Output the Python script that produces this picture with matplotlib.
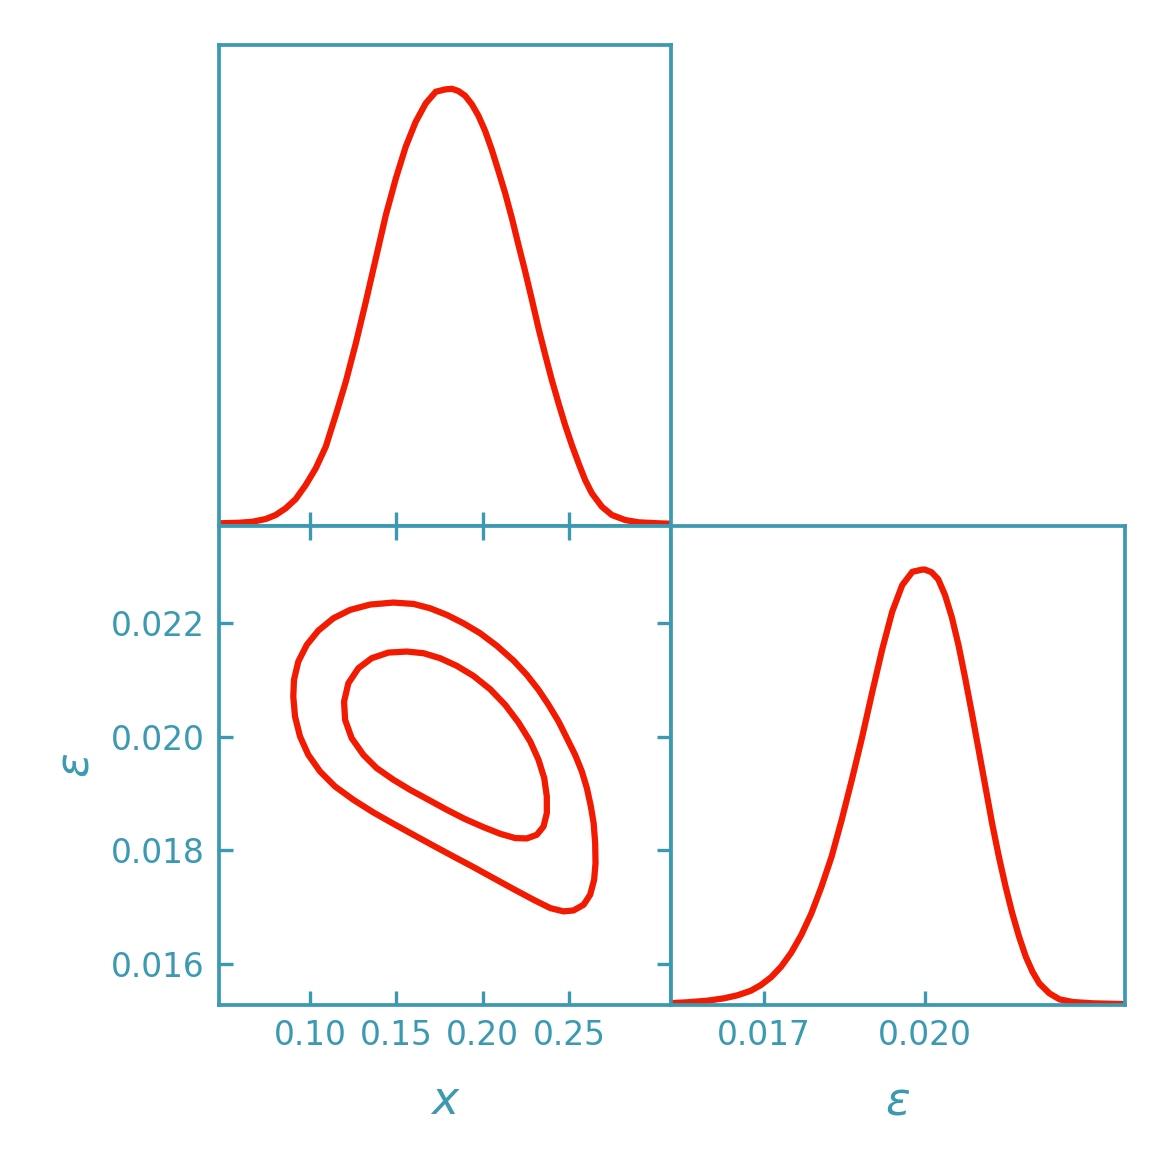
import numpy as np
import matplotlib.pyplot as plt

# Colours
teal = '#3B9AB2'
red = '#F21A00'

# Marginal of x (peak normalised to 1)
x_grid = [0.0473, 0.0589, 0.0666, 0.0743, 0.0801, 0.0859, 0.0917, 0.0975, 0.1033, 0.1091,
          0.1149, 0.1207, 0.1265, 0.1323, 0.1381, 0.1439, 0.1497, 0.1554, 0.1612, 0.1670,
          0.1728, 0.1782, 0.1821, 0.1859, 0.1898, 0.1937, 0.1975, 0.2014, 0.2053, 0.2091,
          0.2130, 0.2169, 0.2207, 0.2246, 0.2285, 0.2323, 0.2362, 0.2400, 0.2439, 0.2477,
          0.2516, 0.2555, 0.2593, 0.2632, 0.2690, 0.2748, 0.2825, 0.2902, 0.3018, 0.3090]
x_dens = [0.0062, 0.0075, 0.0098, 0.0160, 0.0252, 0.0405, 0.0617, 0.0938, 0.1320, 0.1814,
          0.2539, 0.3300, 0.4178, 0.5130, 0.6122, 0.7113, 0.7952, 0.8675, 0.9246, 0.9667,
          0.9932, 0.9985, 1.0000, 0.9948, 0.9841, 0.9644, 0.9384, 0.9034, 0.8599, 0.8119,
          0.7609, 0.7037, 0.6426, 0.5816, 0.5169, 0.4521, 0.3911, 0.3339, 0.2806, 0.2310,
          0.1852, 0.1434, 0.1052, 0.0748, 0.0441, 0.0252, 0.0137, 0.0085, 0.0062, 0.0053]

# Marginal of epsilon (bottom-right panel)
eps_grid = [0.015200, 0.015575, 0.015950, 0.016263, 0.016513, 0.016762, 0.016949, 0.017137,
            0.017324, 0.017512, 0.017699, 0.017887, 0.018074, 0.018262, 0.018449, 0.018637,
            0.018824, 0.019012, 0.019199, 0.019387, 0.019574, 0.019762, 0.019949, 0.019994,
            0.020118, 0.020244, 0.020369, 0.020493, 0.020619, 0.020744, 0.020868, 0.020994,
            0.021119, 0.021243, 0.021369, 0.021494, 0.021618, 0.021744, 0.021869, 0.021993,
            0.022119, 0.022306, 0.022494, 0.022743, 0.023118, 0.023681]
eps_dens = [0.0039, 0.0062, 0.0099, 0.0154, 0.0223, 0.0328, 0.0459, 0.0636,
            0.0879, 0.1201, 0.1607, 0.2105, 0.2716, 0.3405, 0.4248, 0.5166,
            0.6123, 0.7157, 0.8151, 0.9030, 0.9643, 0.9949, 1.0000, 1.0000,
            0.9940, 0.9774, 0.9414, 0.8915, 0.8266, 0.7501, 0.6697, 0.5855,
            0.5012, 0.4172, 0.3405, 0.2716, 0.2105, 0.1568, 0.1109, 0.0765,
            0.0498, 0.0269, 0.0131, 0.0069, 0.0039, 0.0023]

# 2D credible contours (x, epsilon)
outer_x = [0.1483, 0.1599, 0.1695, 0.1792, 0.1888, 0.1985, 0.2082, 0.2178, 0.2255, 0.2323,
           0.2381, 0.2439, 0.2487, 0.2535, 0.2574, 0.2603, 0.2626, 0.2642, 0.2651, 0.2653,
           0.2645, 0.2622, 0.2584, 0.2526, 0.2468, 0.2391, 0.2294, 0.2178, 0.2062, 0.1946,
           0.1830, 0.1715, 0.1599, 0.1483, 0.1367, 0.1251, 0.1145, 0.1058, 0.0990, 0.0942,
           0.0913, 0.0903, 0.0907, 0.0932, 0.0981, 0.1048, 0.1135, 0.1232, 0.1348]
outer_y = [0.022363, 0.022339, 0.022263, 0.022146, 0.021999, 0.021823, 0.021601, 0.021343, 0.021091, 0.020827,
           0.020563, 0.020270, 0.019977, 0.019683, 0.019390, 0.019097, 0.018775, 0.018481, 0.018130, 0.017778,
           0.017485, 0.017221, 0.017045, 0.016945, 0.016928, 0.016986, 0.017133, 0.017321, 0.017514, 0.017708,
           0.017895, 0.018083, 0.018276, 0.018470, 0.018669, 0.018892, 0.019126, 0.019390, 0.019683, 0.020006,
           0.020358, 0.020709, 0.021003, 0.021325, 0.021618, 0.021870, 0.022087, 0.022234, 0.022328]

inner_x = [0.1560, 0.1657, 0.1753, 0.1850, 0.1946, 0.2043, 0.2130, 0.2207, 0.2275, 0.2323,
           0.2356, 0.2371, 0.2371, 0.2352, 0.2313, 0.2255, 0.2188, 0.2101, 0.2004, 0.1898,
           0.1792, 0.1686, 0.1579, 0.1483, 0.1386, 0.1309, 0.1241, 0.1203, 0.1197, 0.1222,
           0.1280, 0.1357, 0.1454]
inner_y = [0.021501, 0.021472, 0.021384, 0.021249, 0.021073, 0.020838, 0.020563, 0.020252, 0.019918, 0.019595,
           0.019273, 0.018951, 0.018657, 0.018423, 0.018276, 0.018212, 0.018218, 0.018294, 0.018411, 0.018552,
           0.018716, 0.018892, 0.019068, 0.019244, 0.019449, 0.019683, 0.019977, 0.020299, 0.020621, 0.020944,
           0.021208, 0.021384, 0.021483]

x_lim = (0.0473, 0.3090)
eps_lim = (0.01528, 0.02371)
x_ticks = [0.10, 0.15, 0.20, 0.25]
x_ticklabels = ['0.10', '0.15', '0.20', '0.25']
eps_ticks_y = [0.016, 0.018, 0.020, 0.022]
eps_ticklabels_y = ['0.016', '0.018', '0.020', '0.022']
eps_ticks_x = [0.017, 0.020]
eps_ticklabels_x = ['0.017', '0.020']

plt.rcParams['font.family'] = ['DejaVu Sans']
plt.rcParams['mathtext.fontset'] = 'dejavusans'

fig = plt.figure(figsize=(3.9, 3.9), dpi=300)

ax_top = fig.add_axes([0.1872, 0.5504, 0.3863, 0.4111])
ax_2d = fig.add_axes([0.1872, 0.1410, 0.3863, 0.4094])
ax_right = fig.add_axes([0.5735, 0.1410, 0.3880, 0.4094])

for ax in (ax_top, ax_2d, ax_right):
    for sp in ax.spines.values():
        sp.set_color(teal)
        sp.set_linewidth(0.9)
    ax.tick_params(colors=teal, labelcolor=teal, direction='in', length=3.3,
                   width=0.8, labelsize=7.9, pad=3.4)

# Top marginal
ax_top.plot(x_grid, x_dens, color=red, lw=1.5, solid_joinstyle='round')
ax_top.set_xlim(x_lim)
ax_top.set_ylim(0, 1.1)
ax_top.set_xticks(x_ticks)
ax_top.tick_params(labelbottom=False, left=False, labelleft=False)

# 2D contours
ax_2d.fill(outer_x, outer_y, fill=False, edgecolor=red, lw=1.5, joinstyle='round')
ax_2d.fill(inner_x, inner_y, fill=False, edgecolor=red, lw=1.5, joinstyle='round')
ax_2d.set_xlim(x_lim)
ax_2d.set_ylim(eps_lim)
ax_2d.set_xticks(x_ticks)
ax_2d.set_xticklabels(x_ticklabels)
ax_2d.set_yticks(eps_ticks_y)
ax_2d.set_yticklabels(eps_ticklabels_y)
ax_2d.tick_params(top=True, right=True)
ax_2d.set_xlabel(r'$x$', color=teal, fontsize=11, labelpad=6.5)
ax_2d.set_ylabel(r'$\epsilon$', color=teal, fontsize=11, labelpad=3)

# Right marginal
ax_right.plot(eps_grid, eps_dens, color=red, lw=1.5, solid_joinstyle='round')
ax_right.set_xlim(eps_lim)
ax_right.set_ylim(0, 1.1)
ax_right.set_xticks(eps_ticks_x)
ax_right.set_xticklabels(eps_ticklabels_x)
ax_right.tick_params(left=False, labelleft=False)
ax_right.set_xlabel(r'$\epsilon$', color=teal, fontsize=11, labelpad=6.5)

fig.savefig('out.png', dpi=300)
